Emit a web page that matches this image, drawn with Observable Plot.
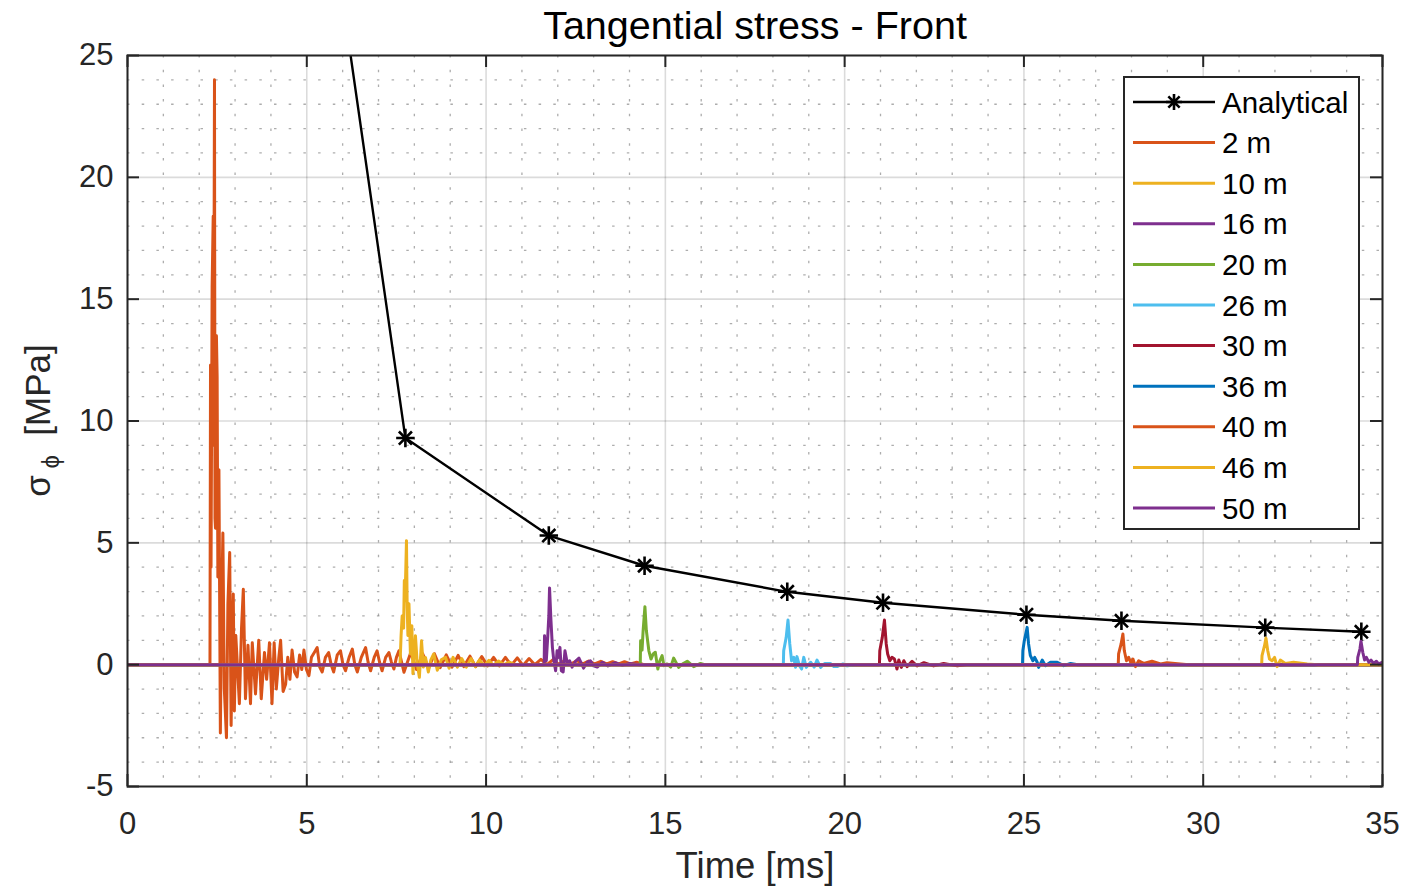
<!DOCTYPE html>
<html>
<head>
<meta charset="utf-8">
<script src="https://cdn.jsdelivr.net/npm/d3@7"></script>
<script src="https://cdn.jsdelivr.net/npm/@observablehq/plot@0.6"></script>
<style>
  body { margin: 0; background: #ffffff; }
  #chart svg { display: block; }
</style>
</head>
<body>
<div id="chart"></div>
<script>
// ---------------- data ----------------
const titleText = "Tangential stress - Front";
const xLabelText = "Time [ms]";
const xTicks = [0, 5, 10, 15, 20, 25, 30, 35];
const yTicks = [-5, 0, 5, 10, 15, 20, 25];

const analyticalName = "Analytical";
const analyticalT = [2.33, 7.75, 11.75, 14.42, 18.40, 21.07, 25.07, 27.72, 31.73, 34.41];
const analyticalS = [65.0, 9.30, 5.30, 4.06, 2.99, 2.54, 2.05, 1.80, 1.52, 1.35];

const seriesNames = ["2 m", "10 m", "16 m", "20 m", "26 m", "30 m", "36 m", "40 m", "46 m", "50 m"];
const seriesColors = ["#D95319", "#EDB120", "#7E2F8E", "#77AC30", "#4DBEEE", "#A2142F", "#0072BD", "#D95319", "#EDB120", "#7E2F8E"];

// [time ms, stress MPa]
const s2m = [[0,0],[2.30,0],[2.315,12.3],[2.33,4.0],[2.36,15.5],[2.39,18.4],[2.40,9.0],[2.426,24.0],[2.44,6.0],[2.454,5.6],
  [2.48,13.5],[2.50,11.8],[2.52,3.6],[2.55,8.0],[2.59,-2.8],[2.62,2.0],[2.66,5.4],[2.70,-1.0],[2.76,-3.0],[2.80,2.5],
  [2.85,4.6],[2.89,-2.5],[2.92,1.0],[2.95,2.9],[2.98,-1.9],[3.02,1.2],[3.06,0.1],[3.12,-1.6],[3.18,1.5],[3.23,3.1],
  [3.29,-1.4],[3.36,0.8],[3.43,-1.6],[3.48,0.9],[3.57,-1.2],[3.66,1.0],[3.73,-1.4],[3.82,0.5],[3.88,-0.6],[3.96,0.9],
  [4.03,-1.6],[4.09,0.9],[4.15,-1.0],[4.22,0.3],[4.27,1.0],[4.34,-1.1],[4.41,-0.8],[4.47,0.3],[4.53,-0.6],[4.59,0.6],
  [4.66,-0.3],[4.73,-0.5],[4.80,0.4],[4.86,-0.2],[4.92,0.6],[4.99,-0.2],[5.06,-0.45],[5.13,0.3],[5.21,0.5],[5.29,0.7],
  [5.36,-0.1],[5.43,-0.3],[5.52,0.3],[5.61,0.5],[5.68,0.0],[5.75,-0.3],[5.85,0.4],[5.94,0.57],[6.01,0.0],[6.08,-0.25],
  [6.18,0.3],[6.27,0.64],[6.34,0.0],[6.41,-0.3],[6.52,0.3],[6.64,0.7],[6.71,0.1],[6.78,-0.25],[6.88,0.3],[6.96,0.57],
  [7.03,0.1],[7.10,-0.25],[7.20,0.3],[7.29,0.5],[7.36,0.1],[7.43,-0.18],[7.50,0.3],[7.57,0.57],[7.71,-0.31],[7.90,0.5],
  [8.06,-0.2],[8.23,0.45],[8.40,-0.15],[8.56,0.45],[8.72,-0.12],[8.89,0.4],[9.05,-0.1],[9.22,0.38],[9.38,-0.08],[9.55,0.35],
  [9.71,-0.08],[9.88,0.33],[10.04,-0.05],[10.21,0.3],[10.37,-0.05],[10.54,0.3],[10.70,-0.03],[10.87,0.28],[11.03,-0.03],[11.20,0.25],
  [11.36,0.0],[11.53,0.22],[11.70,0.0],[11.86,0.2],[12.03,0.02],[12.20,0.18],[12.36,0.02],[12.53,0.16],[12.70,0.03],[12.86,0.15],
  [13.03,0.03],[13.20,0.14],[13.36,0.03],[13.53,0.12],[13.70,0.03],[13.86,0.12],[14.03,0.03],[14.20,0.1],[14.40,0.0],[35,0]];

const s10m = [[0,0],[7.60,0],[7.63,1.2],[7.66,2.0],[7.70,1.5],[7.72,3.45],[7.74,2.6],[7.78,5.09],[7.80,2.35],[7.82,1.2],
  [7.85,2.5],[7.89,0.44],[7.93,1.6],[7.96,-0.37],[8.00,0.5],[8.03,1.19],[8.08,0.04],[8.14,-0.52],[8.20,0.98],[8.25,-0.1],
  [8.31,0.3],[8.39,-0.3],[8.46,0.2],[8.54,0.44],[8.64,-0.23],[8.75,0.2],[8.87,0.3],[8.97,-0.15],[9.08,0.3],[9.20,-0.1],
  [9.32,0.25],[9.45,-0.1],[9.58,0.25],[9.70,-0.08],[9.82,0.2],[9.95,-0.05],[10.08,0.18],[10.20,-0.03],[10.35,0.15],[10.50,0.0],
  [10.65,0.1],[10.80,0.0],[35,0]];

const s16m = [[0,0],[11.62,0],[11.63,1.19],[11.66,0.6],[11.68,0.16],[11.72,1.15],[11.75,2.0],[11.77,3.15],[11.81,1.8],[11.85,0.71],
  [11.89,0.16],[11.94,-0.25],[11.98,0.57],[12.02,0.3],[12.06,0.71],[12.10,-0.25],[12.15,-0.3],[12.20,0.57],[12.26,0.1],[12.33,0.16],
  [12.40,-0.1],[12.50,0.15],[12.59,0.27],[12.72,-0.14],[12.82,0.1],[12.91,0.16],[13.00,-0.05],[13.10,-0.1],[13.25,0.1],[13.40,-0.05],
  [13.60,0.08],[13.80,-0.03],[14.00,0.05],[14.30,0],[35,0]];

const s20m = [[0,0],[14.30,0],[14.31,0.98],[14.35,0.6],[14.38,1.4],[14.43,2.38],[14.47,1.4],[14.54,0.57],[14.60,0.23],[14.66,0.44],
  [14.72,0.51],[14.79,-0.18],[14.84,0.14],[14.91,0.37],[14.96,-0.04],[15.05,0.03],[15.15,-0.1],[15.23,0.27],[15.37,-0.11],[15.50,0.05],
  [15.61,0.14],[15.79,-0.08],[15.98,0.05],[16.10,0],[35,0]];

const s26m = [[0,0],[18.29,0],[18.30,0.57],[18.37,1.12],[18.42,1.83],[18.47,0.85],[18.52,0.16],[18.58,0.30],[18.63,-0.11],[18.67,0.33],
  [18.74,-0.04],[18.80,-0.18],[18.86,0.30],[18.93,-0.11],[19.05,0.10],[19.15,-0.1],[19.23,0.19],[19.33,-0.11],[19.45,0.05],[19.60,0.05],
  [19.70,-0.08],[19.79,-0.08],[19.95,0.03],[20.07,-0.05],[20.35,0.0],[35,0]];

const s30m = [[0,0],[20.97,0],[20.98,0.57],[21.05,1.12],[21.11,1.83],[21.16,0.85],[21.20,0.44],[21.26,0.16],[21.32,0.30],[21.39,0.23],
  [21.46,-0.18],[21.51,0.19],[21.58,-0.11],[21.65,0.16],[21.74,-0.08],[21.88,0.14],[22.02,-0.05],[22.21,0.08],[22.48,-0.05],[22.76,0.05],
  [23.14,-0.05],[23.40,0],[35,0]];

const s36m = [[0,0],[24.96,0],[24.97,0.57],[25.01,0.98],[25.09,1.53],[25.13,0.85],[25.18,0.37],[25.25,0.16],[25.30,0.30],[25.37,0.10],
  [25.41,-0.11],[25.51,0.19],[25.60,-0.04],[25.74,0.10],[25.93,0.10],[26.11,-0.04],[26.30,0.05],[26.50,0],[35,0]];

const s40m = [[0,0],[27.63,0],[27.64,0.44],[27.71,0.85],[27.76,1.26],[27.80,0.57],[27.86,0.16],[27.92,0.30],[27.99,0.05],[28.04,0.23],
  [28.11,-0.08],[28.20,0.16],[28.34,0.05],[28.57,0.14],[28.81,0.03],[28.99,0.08],[29.36,0.03],[29.60,0],[35,0]];

const s46m = [[0,0],[31.63,0],[31.64,0.37],[31.71,0.78],[31.75,1.09],[31.80,0.57],[31.85,0.23],[31.92,0.16],[31.99,0.30],[32.06,-0.08],
  [32.15,0.19],[32.29,0.05],[32.52,0.10],[32.90,0.03],[33.20,0],[35,0]];

const s50m = [[0,0],[34.30,0],[34.31,0.30],[34.37,0.64],[34.40,0.96],[34.45,0.51],[34.50,0.19],[34.55,0.30],[34.62,0.10],[34.68,0.19],
  [34.75,0.05],[34.83,0.14],[34.89,0.03],[34.99,0.10],[35,0.08]];

const seriesData = [s2m, s10m, s16m, s20m, s26m, s30m, s36m, s40m, s46m, s50m];

// ---------------- layout ----------------
const W = 1406, H = 890;
const mL = 127, mR = 24, mT = 55, mB = 104;
const frameW = W - mL - mR, frameH = H - mT - mB;
const tickLen = 12;
const axisColor = "#262626";
const font = "'Liberation Sans', Arial, Helvetica, sans-serif";
const lineW = 3;

const xMinor = d3.range(0, 36).filter(d => d % 5 !== 0);
const yMinor = d3.range(-5, 26).filter(d => d % 5 !== 0);

const analytical = analyticalT.map((t, i) => ({t, s: analyticalS[i]}));

const marks = [
  Plot.gridX(xMinor, {x: d => d, stroke: "#8a8a8a", strokeOpacity: 0.7, strokeWidth: 1.3, strokeDasharray: "2.5,12.2"}),
  Plot.gridY(yMinor, {y: d => d, stroke: "#8a8a8a", strokeOpacity: 0.7, strokeWidth: 1.3, strokeDasharray: "2.5,12.2"}),
  Plot.gridX(xTicks, {x: d => d, stroke: "#000", strokeOpacity: 0.14, strokeWidth: 1.6}),
  Plot.gridY(yTicks, {y: d => d, stroke: "#000", strokeOpacity: 0.14, strokeWidth: 1.6}),
  Plot.line(analytical, {x: "t", y: "s", stroke: "#000", strokeWidth: 2.4, clip: true}),
  Plot.dot(analytical, {x: "t", y: "s", symbol: "plus", r: 6, stroke: "#000", strokeWidth: 2.6, clip: true}),
  Plot.dot(analytical, {x: "t", y: "s", symbol: "times", r: 6, stroke: "#000", strokeWidth: 2.6, clip: true})
];
seriesData.forEach((s, i) => {
  marks.push(Plot.line(s, {x: d => d[0], y: d => d[1], stroke: seriesColors[i], strokeWidth: lineW, strokeLinejoin: "round", clip: true}));
});
marks.push(
  Plot.frame({stroke: axisColor, strokeWidth: 2}),
  Plot.tickX(xTicks, {x: d => d, insetTop: frameH - tickLen, stroke: axisColor, strokeWidth: 2}),
  Plot.tickX(xTicks, {x: d => d, insetBottom: frameH - tickLen, stroke: axisColor, strokeWidth: 2}),
  Plot.tickY(yTicks, {y: d => d, insetRight: frameW - tickLen, stroke: axisColor, strokeWidth: 2}),
  Plot.tickY(yTicks, {y: d => d, insetLeft: frameW - tickLen, stroke: axisColor, strokeWidth: 2}),
  Plot.axisX({ticks: xTicks, tickSize: 0, tickPadding: 25, label: null, fontSize: 31, tickFormat: d => String(d), fill: axisColor}),
  Plot.axisY({ticks: yTicks, tickSize: 0, tickPadding: 14, label: null, fontSize: 31, tickFormat: d => String(d), fill: axisColor}),
  Plot.text([titleText], {frameAnchor: "top", dy: -29, fontSize: 39.5, fill: "#000", lineAnchor: "middle"}),
  Plot.text([xLabelText], {frameAnchor: "bottom", dy: 80, fontSize: 36.5, fill: axisColor, lineAnchor: "middle"})
);

const chart = Plot.plot({
  width: W, height: H,
  marginLeft: mL, marginRight: mR, marginTop: mT, marginBottom: mB,
  x: {domain: [0, 35]},
  y: {domain: [-5, 25]},
  style: {background: "#ffffff", fontFamily: font, fontSize: "31px", color: axisColor, overflow: "visible"},
  marks
});
document.getElementById("chart").appendChild(chart);

// ---------------- y label & legend (added to the same SVG) ----------------
const svg = d3.select(chart);
const yl = svg.append("text")
  .attr("transform", `translate(50,${mT + frameH / 2}) rotate(-90)`)
  .attr("text-anchor", "middle")
  .attr("fill", axisColor)
  .style("font-family", font)
  .style("font-size", "35px")
  .style("white-space", "pre");
yl.append("tspan").text("σ");
yl.append("tspan").attr("dy", 9).style("font-size", "24px").text(" ϕ");
yl.append("tspan").attr("dy", -9).text("  [MPa]");

const legX = 1124, legY = 77, legW = 235, rowH = 40.6, row0 = 102;
const legendItems = [{name: analyticalName, color: "#000", star: true}]
  .concat(seriesNames.map((n, i) => ({name: n, color: seriesColors[i], star: false})));
const legH = 452;
const lg = svg.append("g").attr("text-anchor", "start");
lg.append("rect").attr("x", legX).attr("y", legY).attr("width", legW).attr("height", legH)
  .attr("fill", "#fff").attr("stroke", axisColor).attr("stroke-width", 2);
legendItems.forEach((it, i) => {
  const cy = row0 + i * rowH;
  lg.append("line").attr("x1", legX + 9).attr("x2", legX + 91).attr("y1", cy).attr("y2", cy)
    .attr("stroke", it.color).attr("stroke-width", it.star ? 2.4 : lineW);
  if (it.star) {
    const cx = legX + 50, r = 8, d = r * 0.7071;
    const p = `M${cx - r},${cy}H${cx + r}M${cx},${cy - r}V${cy + r}M${cx - d},${cy - d}L${cx + d},${cy + d}M${cx - d},${cy + d}L${cx + d},${cy - d}`;
    lg.append("path").attr("d", p).attr("stroke", "#000").attr("stroke-width", 2.6).attr("fill", "none");
  }
  lg.append("text").attr("x", legX + 98).attr("y", cy).attr("dy", "0.36em").attr("text-anchor", "start")
    .attr("fill", "#000").style("font-family", font).style("font-size", "29.5px").text(it.name);
});
</script>
</body>
</html>
